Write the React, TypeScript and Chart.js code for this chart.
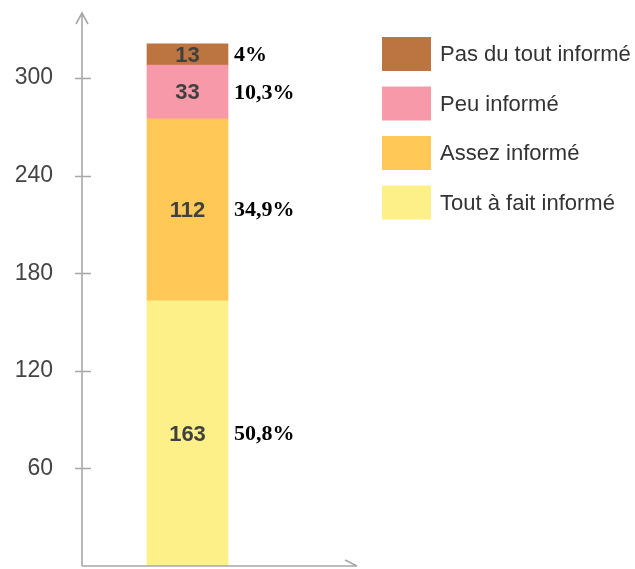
import React, { useEffect, useRef } from "react";
import { Chart, registerables } from "chart.js";

Chart.register(...registerables);

const categories = ["Information"];
const seriesLabels = ["Tout à fait informé", "Assez informé", "Peu informé", "Pas du tout informé"];
const seriesValues = [163, 112, 33, 13];
const percentLabels = ["50,8%", "34,9%", "10,3%", "4%"];
const seriesColors = ["#FDF088", "#FFC857", "#F799A8", "#BC7440"];
const yTickLabels = [60, 120, 180, 240, 300];

const SANS = "'Liberation Sans', Arial, sans-serif";
const SERIF = "'Liberation Serif', 'Times New Roman', serif";
const AXIS_COLOR = "#a8a8a8";

const decorPlugin = {
  id: "decor",
  afterDatasetsDraw(chart: any) {
    const ctx = chart.ctx;
    const area = chart.chartArea;
    const yScale = chart.scales.y;
    const y0 = yScale.getPixelForValue(0);
    ctx.save();
    // axes
    ctx.strokeStyle = AXIS_COLOR;
    ctx.lineWidth = 1.6;
    ctx.beginPath();
    ctx.moveTo(area.left, y0);
    ctx.lineTo(area.left, area.top);
    ctx.moveTo(area.left - 6, area.top + 11);
    ctx.lineTo(area.left, area.top);
    ctx.lineTo(area.left + 6, area.top + 11);
    const xEnd = area.left + 275;
    ctx.moveTo(area.left, y0);
    ctx.lineTo(xEnd, y0);
    ctx.moveTo(xEnd - 12, y0 - 6);
    ctx.lineTo(xEnd, y0);
    ctx.stroke();
    // tick marks crossing the axis
    ctx.beginPath();
    yTickLabels.forEach((v) => {
      const py = Math.round(yScale.getPixelForValue(v)) + 0.5;
      ctx.moveTo(area.left - 7, py);
      ctx.lineTo(area.left + 9, py);
    });
    ctx.stroke();

    // bar labels
    chart.data.datasets.forEach((ds: any, i: number) => {
      const meta = chart.getDatasetMeta(i);
      const bar: any = meta.data[0];
      if (!bar) return;
      const cy = (bar.y + bar.base) / 2;
      ctx.textBaseline = "middle";
      ctx.textAlign = "center";
      ctx.fillStyle = "#404040";
      ctx.font = `bold 22px ${SANS}`;
      ctx.fillText(String(ds.data[0]), bar.x, cy + 1);
      ctx.textAlign = "left";
      ctx.fillStyle = "#000";
      ctx.font = `bold 22px ${SERIF}`;
      ctx.fillText(percentLabels[i], bar.x + bar.width / 2 + 6, cy + 1);
    });

    // legend (top item = last dataset)
    const n = seriesLabels.length;
    for (let k = 0; k < n; k++) {
      const i = n - 1 - k;
      const cy = 54 + k * 49.5;
      ctx.fillStyle = seriesColors[i];
      ctx.fillRect(382, cy - 17, 49, 34);
      ctx.fillStyle = "#333";
      ctx.font = `22px ${SANS}`;
      ctx.textAlign = "left";
      ctx.textBaseline = "middle";
      ctx.fillText(seriesLabels[i], 440, cy + 1);
    }
    ctx.restore();
  },
};

export default function App() {
  const ref = useRef<HTMLCanvasElement | null>(null);
  useEffect(() => {
    document.body.style.margin = "0";
    if (!ref.current) return;
    const chart = new Chart(ref.current, {
      type: "bar",
      data: {
        labels: categories,
        datasets: seriesLabels.map((label, i) => ({
          label,
          data: [seriesValues[i]],
          backgroundColor: seriesColors[i],
          borderWidth: 0,
          barThickness: 81,
        })),
      },
      options: {
        animation: false,
        responsive: false,
        maintainAspectRatio: false,
        layout: { padding: { top: 13, bottom: 3, left: 0, right: 342 } },
        plugins: { legend: { display: false }, tooltip: { enabled: false } },
        scales: {
          x: { stacked: true, display: false },
          y: {
            stacked: true,
            min: 0,
            max: 340,
            afterFit: (scale: any) => {
              scale.width = 82;
              scale.paddingTop = 0;
              scale.paddingBottom = 0;
            },
            border: { display: false },
            grid: {
              display: true,
              drawOnChartArea: false,
              drawTicks: true,
              tickLength: 29,
              color: "rgba(0,0,0,0)",
            },
            ticks: {
              stepSize: 60,
              padding: 0,
              color: "#444",
              font: { family: SANS, size: 23 },
              callback: (v: any) => (yTickLabels.includes(Number(v)) ? String(v) : null),
            },
          },
        },
      },
      plugins: [decorPlugin],
    });
    return () => chart.destroy();
  }, []);
  return (
    <div style={{ width: 635, height: 569, background: "#fff" }}>
      <canvas ref={ref} width={635} height={569} style={{ display: "block" }} />
    </div>
  );
}
